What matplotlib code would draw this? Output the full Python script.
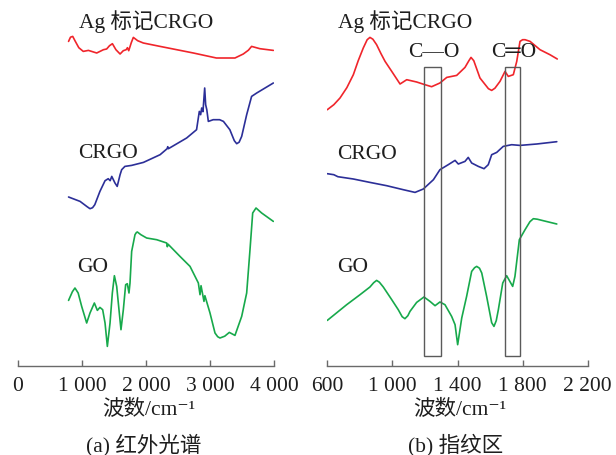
import matplotlib
matplotlib.use("Agg")
import matplotlib.pyplot as plt
from matplotlib.patches import Rectangle

plt.rcParams['font.family'] = ['Liberation Serif', 'Noto Sans CJK SC', 'DejaVu Sans']

# ---------------- data: panel (a) full IR spectrum ----------------
a_ag_wn = [790, 820, 855, 890, 950, 1020, 1100, 1230, 1335, 1385, 1430, 1475, 1530, 1595, 1645,
           1690, 1710, 1730, 1770, 1802, 1870, 1958, 2220, 2740, 3100, 3390, 3520, 3600, 3650,
           3780, 3990]
a_ag_t = [324.3, 328.5, 329.3, 325, 318, 314.3, 315.3, 312.7, 316, 316.7, 320, 322, 316, 311.7,
          315, 316, 318, 315, 323, 328.3, 325, 322.7, 319.3, 312.7, 307.7, 307.7, 311.7, 315.5,
          319.3, 317, 315.3]

a_crgo_wn = [790, 970, 1080, 1125, 1165, 1200, 1280, 1360, 1410, 1440, 1465, 1515, 1550, 1595,
             1620, 1670, 1775, 1960, 2220, 2330, 2340, 2350, 2635, 2790, 2833, 2854, 2870, 2890,
             2917, 2932, 2950, 2974, 3050, 3150, 3210, 3310, 3380, 3417, 3455, 3495, 3573, 3650,
             3730, 3990]
a_crgo_t = [168.7, 164.3, 159, 157, 158, 161, 174.3, 185, 187, 185, 189.3, 182.7, 179.3, 191,
            196, 199.3, 200.3, 203.3, 211, 217, 219, 217, 227.7, 236, 254.3, 251, 257.7, 254,
            277.7, 261, 256, 244.3, 246, 246, 244.3, 236, 225, 222, 223.5, 229.3, 251, 269.3,
            272.7, 282.7]

a_go_wn = [790, 850, 890, 940, 995, 1073, 1125, 1193, 1240, 1280, 1323, 1360, 1396, 1438, 1474,
           1506, 1542, 1583, 1609, 1646, 1682, 1708, 1734, 1750, 1776, 1828, 1850, 1865, 1920,
           2010, 2167, 2323, 2333, 2345, 2531, 2688, 2818, 2844, 2860, 2906, 2920, 3000, 3078,
           3120, 3156, 3230, 3302, 3390, 3495, 3573, 3625, 3667, 3719, 3807, 3990]
a_go_t = [65.3, 74, 77.7, 72.7, 59.3, 42.7, 52.7, 62.7, 55.3, 58.3, 56, 42.7, 19.3, 42.7, 72.7,
          90, 79.3, 52.7, 36, 56, 81, 82, 72.7, 82.7, 114.3, 131, 133.2, 133.7, 131,
          127.7, 126, 122.7, 119, 121.5, 109.3, 99.3, 82.7, 71, 80, 64.3, 70, 52.7, 32.7,
          29, 27.7, 29.5, 33.3, 30.3, 49.3, 72.7, 116, 152.7, 157.7, 152.7, 144.3]

# ---------------- data: panel (b) fingerprint region ----------------
b_ag_wn = [600, 640, 678, 720, 760, 790, 821, 845, 862, 880, 903, 930, 955, 996, 1047, 1088,
           1149, 1200, 1241, 1292, 1334, 1395, 1446, 1470, 1483, 1500, 1538, 1590, 1610, 1630,
           1661, 1692, 1712, 1743, 1764, 1784, 1800, 1815, 1846, 1907, 1968, 2013]
b_ag_t = [256, 261, 267.7, 278, 291, 305, 317.7, 326, 328.3, 326.5, 321, 312, 304.3, 294.3,
          281.7, 286, 283.7, 281, 279, 282.7, 288.3, 290.3, 298.3, 305, 308.3, 305, 287.7, 277,
          275.3, 277.5, 284.3, 294.3, 289.3, 291, 304.3, 324.3, 326, 326, 324.3, 316, 311, 306.7]

b_crgo_wn = [600, 640, 665, 760, 862, 965, 1067, 1139, 1190, 1252, 1292, 1343, 1385, 1405, 1446,
             1466, 1487, 1528, 1563, 1589, 1610, 1641, 1681, 1733, 1784, 1887, 2010]
b_crgo_t = [192, 191, 189, 186.7, 183.3, 180, 176, 173.3, 176.7, 186, 196, 201, 205.3, 201.7,
            204.3, 208.3, 202.7, 199.3, 197, 201, 211, 213.3, 219.3, 221, 220.3, 221.7, 224]

b_go_wn = [600, 719, 801, 862, 885, 903, 920, 944, 996, 1036, 1060, 1077, 1095, 1108, 1149, 1194,
           1231, 1262, 1292, 1323, 1364, 1385, 1401, 1426, 1456, 1487, 1505, 1518, 1535, 1549,
           1579, 1610, 1624, 1638, 1651, 1678, 1702, 1739, 1753, 1780, 1815, 1845, 1866, 1890,
           1927, 2010]
b_go_t = [45.3, 61, 71, 78.7, 83, 85.3, 83.5, 78.7, 66, 56, 49, 47, 50, 54.3, 63.3, 68.7,
          64.3, 60, 63.7, 61, 49.3, 41, 21, 47.7, 69.3, 94.3, 98, 99.3, 97.5, 92.7,
          69.3, 43, 39.3, 45, 56, 82.7, 90, 79.3, 89.3, 126, 136, 144, 147, 146.5,
          145, 141.7]

# marked bands (wavenumber range) and their labels
band_ranges = [(1196, 1297), (1690, 1784)]
band_labels = ["C—O", "C═O"]

a_ticks = [0, 1000, 2000, 3000, 4000]
a_ticklabels = ["0", "1 000", "2 000", "3 000", "4 000"]
b_ticks = [600, 1000, 1400, 1800, 2200]
b_ticklabels = ["600", "1 000", "1 400", "1 800", "2 200"]

xlabel = "波数/cm⁻¹"
captions = ["(a) 红外光谱", "(b) 指纹区"]
series_names = ["Ag 标记CRGO", "CRGO", "GO"]

RED = "#f0252b"
BLUE = "#2c2f98"
GREEN = "#17a94b"
AXC = "#6a6a6a"
TXT = "#1e1e1e"
FS = 15.5

W, H = 616, 455
fig = plt.figure(figsize=(W / 100, H / 100), dpi=100)

axis_y = 365.7
ax_a = fig.add_axes([18 / W, (H - axis_y) / H, 256 / W, axis_y / H])
ax_b = fig.add_axes([327.3 / W, (H - axis_y) / H, 260.4 / W, axis_y / H])

for ax in (ax_a, ax_b):
    ax.set_ylim(0, axis_y)
    ax.set_facecolor("none")
    for s in ("left", "right", "top"):
        ax.spines[s].set_visible(False)
    ax.spines["bottom"].set_color(AXC)
    ax.spines["bottom"].set_linewidth(1.0)
    ax.tick_params(axis="x", direction="in", length=4, width=1.0, color=AXC,
                   labelsize=FS, labelcolor=TXT, pad=8)
    ax.set_yticks([])

lw = 1.2
kw = dict(lw=lw, solid_joinstyle="round", solid_capstyle="round")
ax_a.plot(a_ag_wn, a_ag_t, color=RED, **kw)
ax_a.plot(a_crgo_wn, a_crgo_t, color=BLUE, **kw)
ax_a.plot(a_go_wn, a_go_t, color=GREEN, **kw)
ax_a.set_xlim(0, 4000)
ax_a.set_xticks(a_ticks)
ax_a.set_xticklabels(a_ticklabels)

ax_b.plot(b_ag_wn, b_ag_t, color=RED, **kw)
ax_b.plot(b_crgo_wn, b_crgo_t, color=BLUE, **kw)
ax_b.plot(b_go_wn, b_go_t, color=GREEN, **kw)
ax_b.set_xlim(600, 2200)
ax_b.set_xticks(b_ticks)
ax_b.set_xticklabels(b_ticklabels)

# band rectangles
for (lo, hi), lab in zip(band_ranges, band_labels):
    ax_b.add_patch(Rectangle((lo, 10), hi - lo, 289, fill=False, edgecolor="#5a5a5a", lw=1.0,
                             zorder=3))
    ax_b.text((lo + hi) / 2 + 10, 313, lab, ha="center", va="center", fontsize=FS, color=TXT)

# series labels
ax_a.text(953, 344, series_names[0], ha="left", va="center", fontsize=FS, color=TXT)
ax_a.text(938, 212, series_names[1], ha="left", va="center", fontsize=FS, color=TXT)
ax_a.text(922, 98, series_names[2], ha="left", va="center", fontsize=FS, color=TXT)
ax_b.text(666, 344, series_names[0], ha="left", va="center", fontsize=FS, color=TXT)
ax_b.text(660, 211, series_names[1], ha="left", va="center", fontsize=FS, color=TXT)
ax_b.text(660, 98, series_names[2], ha="left", va="center", fontsize=FS, color=TXT)

# axis labels and captions
fig.text(148.5 / W, 1 - 410 / H, xlabel, ha="center", va="center", fontsize=FS, color=TXT)
fig.text(460 / W, 1 - 410 / H, xlabel, ha="center", va="center", fontsize=FS, color=TXT)
fig.text(144 / W, 1 - 445 / H, captions[0], ha="center", va="center", fontsize=FS, color=TXT)
fig.text(455.5 / W, 1 - 445 / H, captions[1], ha="center", va="center", fontsize=FS, color=TXT)

fig.savefig("out.png", dpi=100)
